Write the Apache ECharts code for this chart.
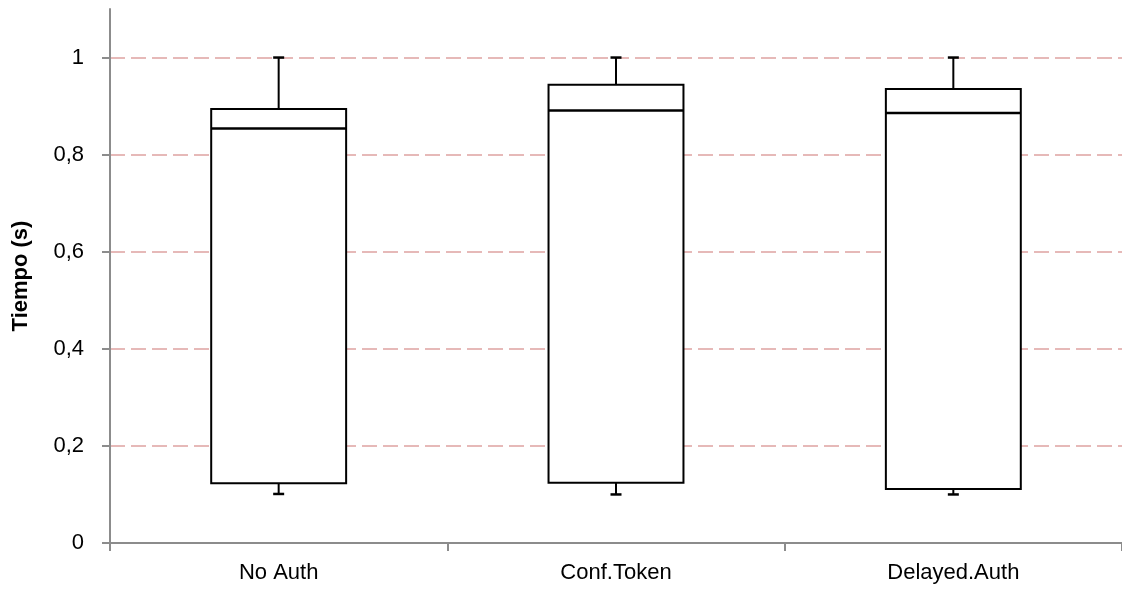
<!DOCTYPE html>
<html>
<head>
<meta charset="utf-8">
<script src="https://cdn.jsdelivr.net/npm/echarts@6/dist/echarts.min.js"></script>
<style>
  html, body { margin: 0; padding: 0; background: #fff; }
  #main { width: 1122px; height: 593px; }
</style>
</head>
<body>
<div id="main"></div>
<script>
var categories = ['No Auth', 'Conf.Token', 'Delayed.Auth'];
var lows = [0.101, 0.100, 0.100];
var q1s = [0.123, 0.124, 0.111];
var medians = [0.854, 0.891, 0.886];
var q3s = [0.894, 0.944, 0.935];
var highs = [1.0, 1.0, 1.0];
var yTicks = [0, 0.2, 0.4, 0.6, 0.8, 1];

var font = '"Liberation Sans", Arial, sans-serif';
var axisGray = '#8c8c8c';

var boxData = categories.map(function (c, i) {
  return [i, lows[i], q1s[i], medians[i], q3s[i], highs[i]];
});

// draws one box with thin whisker caps, like the excel chart
function renderBox(params, api) {
  var idx = api.value(0);
  var band = api.size([1, 0])[0];
  var half = band * 0.2;
  var cap = 5.5;
  var low = api.coord([idx, api.value(1)]);
  var q1 = api.coord([idx, api.value(2)]);
  var med = api.coord([idx, api.value(3)]);
  var q3 = api.coord([idx, api.value(4)]);
  var high = api.coord([idx, api.value(5)]);
  var cx = q1[0];
  var stroke = { stroke: '#000', lineWidth: 2 };
  return {
    type: 'group',
    children: [
      { type: 'line', shape: { x1: cx, y1: q3[1], x2: cx, y2: high[1] }, style: stroke },
      { type: 'line', shape: { x1: cx - cap, y1: high[1], x2: cx + cap, y2: high[1] }, style: { stroke: '#000', lineWidth: 2.5 } },
      { type: 'line', shape: { x1: cx, y1: q1[1], x2: cx, y2: low[1] }, style: stroke },
      { type: 'line', shape: { x1: cx - cap, y1: low[1], x2: cx + cap, y2: low[1] }, style: { stroke: '#000', lineWidth: 2.5 } },
      {
        type: 'rect',
        shape: { x: cx - half, y: q3[1], width: half * 2, height: q1[1] - q3[1] },
        style: { fill: '#fff', stroke: '#000', lineWidth: 2 }
      },
      { type: 'line', shape: { x1: cx - half, y1: med[1], x2: cx + half, y2: med[1] }, style: { stroke: '#000', lineWidth: 2.5 } }
    ]
  };
}

var chart = echarts.init(document.getElementById('main'));
chart.setOption({
  animation: false,
  backgroundColor: '#fff',
  grid: { left: 110, right: -4, top: 9, bottom: 50 },
  xAxis: {
    type: 'category',
    data: categories,
    boundaryGap: true,
    axisLine: { lineStyle: { color: axisGray, width: 2 } },
    axisTick: { show: true, length: 8, lineStyle: { color: axisGray, width: 2 } },
    axisLabel: { color: '#000', fontSize: 22, fontFamily: font, margin: 19 }
  },
  yAxis: {
    type: 'value',
    min: 0,
    max: 1.1,
    interval: 0.2,
    name: 'Tiempo (s)',
    nameLocation: 'middle',
    nameGap: 78,
    nameTextStyle: { color: '#000', fontSize: 22, fontWeight: 'bold', fontFamily: font },
    axisLine: { show: true, lineStyle: { color: axisGray, width: 2 } },
    axisTick: { show: true, length: 8, customValues: yTicks, lineStyle: { color: axisGray, width: 2 } },
    axisLabel: {
      customValues: yTicks,
      color: '#000',
      fontSize: 22,
      fontFamily: font,
      margin: 26,
      formatter: function (v) { return String(+v.toFixed(1)).replace('.', ','); }
    },
    splitLine: {
      show: true,
      showMinLine: false,
      showMaxLine: true,
      lineStyle: { color: '#e6b9b8', width: 2, type: [15, 6] }
    }
  },
  series: [{
    type: 'custom',
    renderItem: renderBox,
    encode: { x: 0, y: [1, 2, 3, 4, 5] },
    data: boxData
  }]
});
</script>
</body>
</html>
